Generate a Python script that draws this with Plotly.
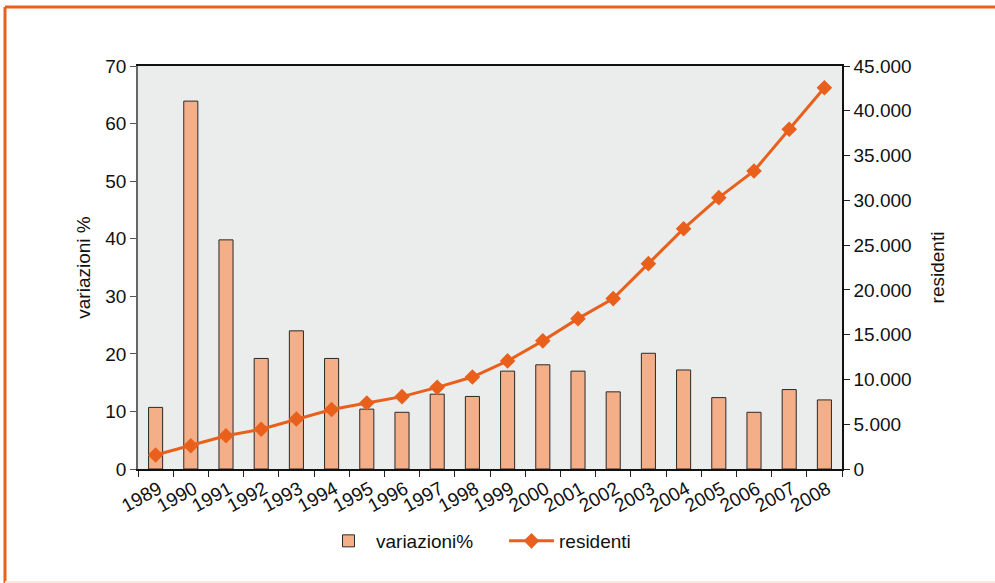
import plotly.graph_objects as go

anni = ["1989", "1990", "1991", "1992", "1993", "1994", "1995", "1996", "1997", "1998",
        "1999", "2000", "2001", "2002", "2003", "2004", "2005", "2006", "2007", "2008"]
variazioni = [10.7, 63.9, 39.8, 19.2, 24.0, 19.2, 10.4, 9.85, 13.0, 12.6,
              17.0, 18.1, 17.0, 13.4, 20.1, 17.2, 12.4, 9.85, 13.8, 12.0]
residenti = [1560, 2600, 3720, 4440, 5580, 6640, 7370, 8080, 9120, 10270,
             12070, 14310, 16790, 19030, 22930, 26830, 30300, 33280, 37930, 42570]

ORANGE = "#E8601C"
FONT = "Liberation Sans, Arial, Helvetica, sans-serif"

fig = go.Figure()
fig.add_trace(go.Bar(
    x=anni, y=variazioni, name="variazioni%",
    marker=dict(color="#F4AE88", line=dict(color="#2a2a2a", width=1)),
    yaxis="y",
))
fig.add_trace(go.Scatter(
    x=anni, y=residenti, name="residenti", mode="lines+markers",
    line=dict(color=ORANGE, width=3),
    marker=dict(symbol="diamond", size=12, color=ORANGE),
    yaxis="y2",
))

# plot area in page pixels
L, R, T, B = 138, 842, 66, 469
W, H = R - L, B - T
def px(x):
    return (x - L) / W
def py(y):
    return (B - y) / H

shapes = [
    dict(type="line", xref="paper", yref="paper", x0=px(5), x1=px(1000), y0=py(7), y1=py(7),
         line=dict(color=ORANGE, width=3)),
    dict(type="line", xref="paper", yref="paper", x0=px(5), x1=px(5), y0=py(7), y1=py(590),
         line=dict(color=ORANGE, width=3)),
    dict(type="line", xref="paper", yref="paper", x0=px(5), x1=px(1000), y0=py(582), y1=py(582),
         line=dict(color="#FBE9DF", width=2)),
]

fig.update_layout(
    width=995, height=583,
    margin=dict(l=L, r=995 - R, t=T, b=583 - B),
    paper_bgcolor="white",
    plot_bgcolor="#EBEDEC",
    font=dict(family=FONT, size=19, color="#111"),
    separators=",.",
    bargap=0.6,
    showlegend=True,
    legend=dict(orientation="h", x=px(321), xanchor="left", y=py(541), yanchor="middle",
                font=dict(size=19), itemwidth=45, entrywidth=123, bgcolor="rgba(0,0,0,0)"),
    xaxis=dict(type="category", range=[-0.5, 19.5], tickson="boundaries", ticks="outside",
               ticklen=6, tickcolor="#222", showline=True, linecolor="#111", linewidth=1.5,
               mirror=True, tickangle=-29, tickfont=dict(size=19), showgrid=False,
               ticklabelshift=3),
    yaxis=dict(range=[0, 70], dtick=10, ticks="outside", ticklen=6, tickcolor="#555",
               showline=True, linecolor="#666", linewidth=1.5, showgrid=False, zeroline=False,
               title=dict(text="variazioni %", standoff=10, font=dict(size=19))),
    yaxis2=dict(range=[0, 45000], dtick=5000, overlaying="y", side="right", tickformat=",d",
                ticks="outside", ticklen=6, tickcolor="#222", showline=True, linecolor="#111",
                linewidth=1.5, showgrid=False, zeroline=False,
                title=dict(text="residenti", standoff=20, font=dict(size=19))),
    shapes=shapes,
)

fig.write_html("out.html", config={"displayModeBar": False},
               post_script="document.body.style.margin='0px';document.body.style.overflow='hidden';")
